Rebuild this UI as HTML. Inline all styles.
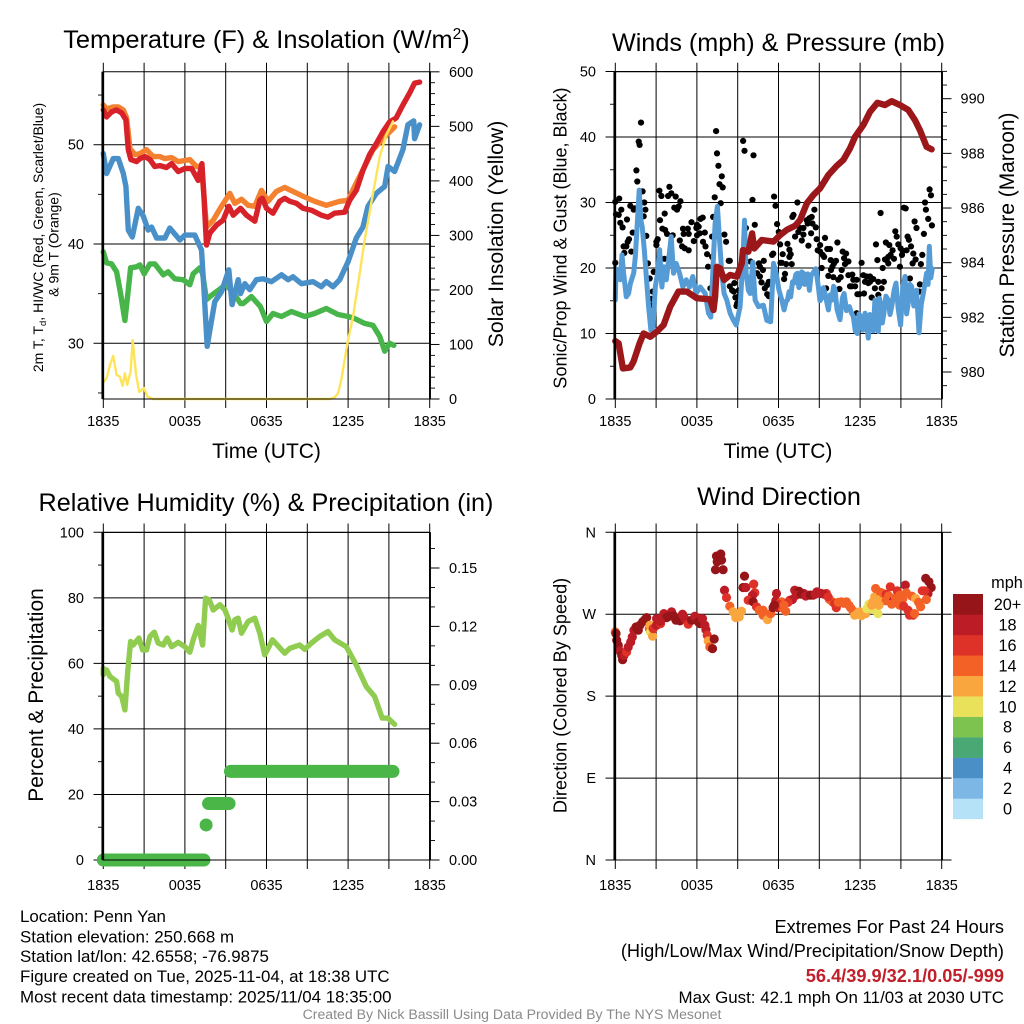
<!DOCTYPE html>
<html lang="en">
<head>
<meta charset="utf-8">
<title>Penn Yan Station Meteogram</title>
<style>
html,body{margin:0;padding:0;background:#fff;width:1024px;height:1024px;overflow:hidden}
svg{display:block;font-family:"Liberation Sans",sans-serif;fill:#000}
</style>
</head>
<body>
<svg id="chart" xmlns="http://www.w3.org/2000/svg" width="1024" height="1024" viewBox="0 0 1024 1024">
<rect x="0" y="0" width="1024" height="1024" fill="#fff"/>
<g id="p1"></g>
<g id="p2"></g>
<g id="p3"></g>
<g id="p4"></g>
<g id="cb"></g>

<text x="266.5" y="48" font-size="25.4" text-anchor="middle">Temperature (F) &amp; Insolation (W/m<tspan dy="-9" font-size="15.5">2</tspan><tspan dy="9">)</tspan></text>
<text x="778.5" y="51" font-size="25.2" text-anchor="middle">Winds (mph) &amp; Pressure (mb)</text>
<text x="266" y="511" font-size="25.2" text-anchor="middle">Relative Humidity (%) &amp; Precipitation (in)</text>
<text x="779" y="505" font-size="25.2" text-anchor="middle">Wind Direction</text>

<text x="266.5" y="458" font-size="21" text-anchor="middle">Time (UTC)</text>
<text x="778" y="458" font-size="21" text-anchor="middle">Time (UTC)</text>

<text transform="translate(43,237.5) rotate(-90)" font-size="14" text-anchor="middle">2m T, T<tspan dy="3" font-size="9.5">d</tspan><tspan dy="-3">, HI/WC (Red, Green, Scarlet/Blue)</tspan></text>
<text transform="translate(58.5,244.5) rotate(-90)" font-size="14" text-anchor="middle">&amp; 9m T (Orange)</text>
<text transform="translate(503,234) rotate(-90)" font-size="21.2" text-anchor="middle">Solar Insolation (Yellow)</text>
<text transform="translate(566.5,238) rotate(-90)" font-size="18" text-anchor="middle">Sonic/Prop Wind &amp; Gust (Blue, Black)</text>
<text transform="translate(1014,235) rotate(-90)" font-size="20.9" text-anchor="middle">Station Pressure (Maroon)</text>
<text transform="translate(43,695) rotate(-90)" font-size="21" text-anchor="middle">Percent &amp; Precipitation</text>
<text transform="translate(566.5,695.5) rotate(-90)" font-size="18.1" text-anchor="middle">Direction (Colored By Speed)</text>

<g font-size="16.9">
<text x="20" y="922">Location: Penn Yan</text>
<text x="20" y="942.5">Station elevation: 250.668 m</text>
<text x="20" y="962">Station lat/lon: 42.6558; -76.9875</text>
<text x="20" y="982">Figure created on Tue, 2025-11-04, at 18:38 UTC</text>
<text x="20" y="1002.5">Most recent data timestamp: 2025/11/04 18:35:00</text>
</g>
<g text-anchor="end">
<text x="1004" y="933" font-size="18.2">Extremes For Past 24 Hours</text>
<text x="1004" y="957" font-size="18.2">(High/Low/Max Wind/Precipitation/Snow Depth)</text>
<text x="1004" y="982" font-size="18.2" font-weight="bold" fill="#c0202a">56.4/39.9/32.1/0.05/-999</text>
<text x="1004" y="1003" font-size="16.9">Max Gust: 42.1 mph On 11/03 at 2030 UTC</text>
</g>
<text x="512" y="1019" font-size="14.1" text-anchor="middle" fill="#8a8a8a">Created By Nick Bassill Using Data Provided By The NYS Mesonet</text>
</svg>

<script>
// ---- Shared axis categories ----
const timeTickHours = [0, 6, 12, 18, 24];
const timeTickLabels = ['1835', '0035', '0635', '1235', '1835'];
const gridHours = [0, 3, 6, 9, 12, 15, 18, 21, 24];

// ---- Temperature panel ----
const tempTicks = [30, 40, 50];
const tempMinorTicks = [25, 35, 45, 55];
const solarTicks = [0, 100, 200, 300, 400, 500, 600];
const solarMinorTicks = [20,40,60,80,120,140,160,180,220,240,260,280,320,340,360,380,420,440,460,480,520,540,560,580];

const greenHours = [0,.24,.61,.98,1.27,1.59,1.84,2.01,2.45,2.69,3.01,3.43,3.79,4.41,4.77,5.26,5.87,6.36,6.61,7.10,7.30,7.59,8.03,8.52,9.00,9.37,9.61,10.10,10.28,10.71,10.89,11.55,12.00,12.48,13.10,13.83,14.81,15.54,16.40,17.26,17.99,18.48,19.21,19.83,20.32,20.69,21.06,21.36];
const greenValues = [39.2,38.1,38.0,37.2,35.0,32.3,35.4,37.6,37.7,37.9,37.0,38.0,38.0,36.9,37.2,36.5,36.4,35.9,37.0,37.6,37.0,34.4,34.9,35.4,35.9,35.4,35.0,34.0,34.0,34.5,34.7,33.7,32.2,33.0,32.7,33.2,32.7,33.0,33.5,32.9,32.7,32.5,32.0,31.8,30.7,29.2,30.0,29.8];

const blueHours = [0,.24,.73,1.10,1.47,1.66,1.84,2.13,2.57,2.94,3.30,3.55,3.92,4.53,4.89,5.63,6.00,6.73,7.22,7.39,7.64,7.88,8.20,8.69,9.23,9.47,9.92,10.09,10.41,10.77,11.26,11.75,12.36,13.10,13.59,13.95,14.57,15.42,16.03,16.40,16.89,17.38,17.99,18.60,19.09,19.46,20.07,20.69,20.94,21.42,22.03,22.40,22.82,22.89,23.26];
const blueValues = [49.1,47.1,48.6,48.6,47.1,45.8,41.4,40.7,43.6,42.8,41.4,41.7,40.6,40.6,41.6,40.4,40.9,40.9,39.4,35.7,29.7,31.7,34.2,35.2,37.4,33.9,36.4,35.0,36.0,35.4,36.4,36.5,36.2,36.9,36.4,36.7,36.0,36.2,35.7,36.2,35.7,36.4,38.2,40.6,41.7,43.8,45.1,45.8,47.8,47.3,49.5,52.0,52.4,50.6,52.0];

const orangeHours = [0,.24,.73,1.10,1.47,1.71,1.96,2.33,2.69,3.18,3.67,4.16,4.53,5.02,5.51,6.36,6.85,7.22,7.59,8.08,8.69,9.30,9.67,10.16,10.65,11.14,11.63,12.12,12.73,13.34,13.95,14.69,15.54,16.40,17.38,17.99,18.48,19.21,19.83,20.56,21.42];
const orangeValues = [54.0,53.6,53.8,53.8,53.5,52.7,49.6,49.0,49.1,49.5,48.8,48.8,48.6,48.7,48.3,48.5,47.8,47.8,41.7,42.4,43.8,45.1,44.1,44.5,43.9,43.8,45.4,44.3,45.3,45.7,45.3,44.8,44.3,43.9,44.3,44.4,45.8,47.8,49.5,50.6,51.8];

const redHours = [0,.24,.61,.98,1.35,1.66,1.84,2.03,2.45,2.69,3.06,3.43,3.79,4.16,4.65,5.02,5.51,6.00,6.49,6.98,7.25,7.39,7.59,7.83,8.32,8.81,9.23,9.55,10.09,10.53,11.14,11.51,11.70,12.00,12.48,12.97,13.34,13.71,14.20,14.69,15.30,16.03,16.52,17.01,17.75,18.11,18.60,19.09,19.58,20.07,20.56,21.05,21.54,22.03,22.52,22.89,23.26];
const redValues = [53.5,52.8,53.3,53.5,53.2,52.5,49.5,48.5,48.3,48.6,48.8,48.5,47.8,47.9,47.7,48.1,47.3,47.6,47.6,46.4,48.1,45.1,39.9,41.1,41.9,42.4,43.8,42.9,43.6,42.9,42.3,44.4,44.6,43.6,43.1,44.3,44.6,44.3,44.1,43.6,43.4,42.9,42.7,43.1,43.2,44.4,45.4,47.4,49.0,50.1,51.3,52.3,52.7,54.0,55.2,56.2,56.3];

const solarHours = [0,.05,.24,.49,.73,.98,1.22,1.42,1.59,1.76,2.01,2.16,2.40,2.64,2.99,3.23,3.67,8,12,16.65,17.01,17.26,17.50,17.75,17.99,18.36,18.85,19.21,19.83,20.32,20.80,21.30];
const solarValues = [35,32,38,62,79,44,41,24,47,26,50,108,47,13,20,5,0,0,0,0,3,10,35,72,108,151,230,291,377,444,484,509];

// ---- Winds panel ----
const windTicks = [0, 10, 20, 30, 40, 50];
const windMinorTicks = [5, 15, 25, 35, 45];
const pressureTicks = [980, 982, 984, 986, 988, 990];
const pressureMinorTicks = [979.5,980.5,981,981.5,982.5,983,983.5,984.5,985,985.5,986.5,987,987.5,988.5,989,989.5,990.5,991];

const gustHours = [0,0,.29,.05,.25,.44,.37,.54,.86,1.10,1.35,1.42,1.28,1.01,.91,.61,.81,.66,1.18,1.55,1.62,1.72,1.79,1.89,2.01,2.13,2.21,2.09,2.28,2.40,2.53,2.82,2.75,2.65,2.63,3.02,3.12,3.02,3.29,3.63,3.24,3.39,3.98,3.88,4.12,4.44,4.79,4.54,4.34,4.66,3.46,3.66,3.80,4.22,3.61,4.74,4.91,5.10,5.40,4.98,5.33,5.03,5.40,5.60,5.77,6.01,5.96,6.13,6.21,6.01,6.26,6.43,6.58,6.45,6.63,6.75,6.82,7.12,7.31,7.41,7.48,7.58,7.83,7.66,7.90,7.75,7.19,7.12,8.02,8.15,6.99,8.34,8.42,8.42,8.59,8.76,8.71,9.08,8.83,9.08,8.96,8.91,9.40,9.50,10.16,10.09,10.26,9.60,9.94,9.87,10.55,10.63,10.92,10.85,10.43,10.63,10.75,11.29,11.17,10.99,11.17,11.29,11.53,11.61,11.68,11.78,11.90,12.02,12.15,
12.12,12.66,12.31,12.80,12.90,12.80,12.24,12.56,12.97,12.48,12.41,13.39,13.10,13.02,14.64,14.44,14.27,14.08,14.15,14.49,14.74,13.59,13.83,13.46,13.83,13.22,13.71,14.40,14.20,14.81,15.42,15.06,14.88,15.06,15.59,15.79,16.33,15.25,15.35,15.84,16.23,16.08,15.96,15.86,16.72,16.97,16.82,17.14,16.89,16.65,15.18,15.67,16.03,16.40,16.57,15.50,16.48,17.14,17.43,17.26,17.38,17.63,17.50,17.75,18.11,17.80,18.29,17.94,18.24,18.48,18.73,18.97,18.36,18.73,18.60,19.09,19.58,19.34,19.75,19.34,18.85,17.75,19.17,19.27,19.51,19.66,19.83,19.95,19.90,20.15,20.39,20.24,20.07,20.07,20.49,20.59,20.69,20.81,20.98,21.13,21.08,21.42,20.93,21.22,21.35,21.49,21.59,21.74,21.91,22.08,21.86,22.01,22.15,22.69,22.57,22.47,21.66,22.40,22.35,22.77,22.84,23.01,23.28,23.11,23.21];
const gustValues = [20.8,30.1,30.6,28.2,28.1,28.9,26.9,26.2,27.4,29.5,28.9,29.1,25.4,24.4,24.0,23.3,23.3,22.3,22.5,34.9,33.2,39.3,38.8,42.2,31.7,30.0,28.9,27.9,24.9,20.7,18.4,19.4,16.4,15.3,14.3,24.0,24.4,23.5,27.3,28.3,31.8,31.0,32.4,31.0,31.4,30.9,30.2,28.9,29.2,29.4,26.0,25.8,25.2,25.0,21.4,24.2,23.3,23.0,22.7,26.0,26.0,25.2,25.2,27.0,24.1,26.6,26.1,26.3,25.3,25.0,27.5,27.7,25.4,24.0,23.3,22.1,20.2,21.7,30.8,40.9,37.5,35.6,34.0,32.8,32.3,29.9,27.8,24.8,25.1,24.0,16.9,21.1,21.1,17.2,16.6,17.7,16.4,16.6,15.5,15.7,14.6,14.2,39.4,37.9,37.2,30.4,26.6,26.1,21.0,18.4,20.7,20.2,21.1,19.7,19.2,18.7,17.8,17.9,17.4,16.9,16.0,15.7,22.0,22.2,30.9,29.5,26.7,25.5,20.8,
23.6,23.7,22.1,22.8,22.1,21.7,20.8,20.6,20.6,19.1,18.3,30.0,28.1,27.8,28.9,27.8,27.6,27.3,26.8,26.8,26.2,26.1,26.1,25.5,25.1,24.8,24.2,25.3,23.4,24.4,24.6,23.5,22.7,22.5,22.9,22.9,23.9,22.0,21.7,21.2,21.1,20.7,20.2,19.7,22.5,22.2,21.5,21.0,20.6,19.7,20.0,18.8,18.6,18.2,18.6,16.9,16.8,18.9,19.0,17.2,17.2,17.2,18.2,18.2,20.8,16.0,16.1,16.0,18.9,18.7,18.7,18.3,17.9,17.9,17.7,16.9,16.9,17.9,17.9,15.9,15.5,13.1,23.6,21.2,28.4,20.0,21.3,21.2,23.9,23.5,22.7,22.0,21.7,20.7,21.4,25.6,24.8,23.6,23.0,22.6,22.0,22.7,20.2,29.2,29.1,24.8,24.3,23.3,22.2,21.3,20.7,27.1,26.1,25.2,22.0,20.6,18.4,17.5,16.4,30.0,28.9,27.5,26.5,32.0,31.1];

const sustainedHours = [0,.05,.17,.37,.49,.61,.81,.98,1.10,1.35,1.47,1.59,1.76,1.88,1.98,2.13,2.28,2.45,2.62,2.77,2.94,3.11,3.26,3.43,3.55,3.75,3.92,4.11,4.28,4.48,4.72,4.97,5.21,5.46,5.70,5.95,6.24,6.61,6.85,7.02,7.22,7.34,7.51,7.66,7.83,8.00,8.20,8.44,8.69,8.89,9.18,9.38,9.50,9.62,9.79,9.92,10.11,10.28,10.53,10.89,11.14,11.43,11.63,11.82,12.04,12.24,12.41,12.55,12.66,12.78,12.90,13.03,13.15,13.27,13.39,13.50,13.59,13.70,13.83,13.93,14.03,14.15,14.27,14.40,14.52,14.74,14.93,15.05,15.18,15.30,15.42,15.55,15.67,15.80,15.91,16.05,16.16,16.30,16.52,16.70,16.82,17.00,17.21,17.35,17.50,17.65,17.80,17.92,18.04,18.20,18.36,18.48,18.60,18.72,18.85,18.97,19.09,19.20,19.34,19.42,19.51,19.63,19.75,19.90,20.07,20.20,20.32,20.50,20.64,20.80,20.98,21.15,21.30,21.42,21.54,21.66,21.79,21.95,22.15,22.33,22.50,22.65,22.89,23.00,23.09,23.20,23.31];
const sustainedValues = [15.1,19.9,19.2,18.2,22.0,19.2,15.6,16.1,17.6,19.2,21.7,25.8,31.9,27.3,26.3,22.8,18.7,14.1,10.5,11.0,17.1,19.2,22.8,17.1,20.2,18.2,21.2,24.8,19.2,20.7,19.2,17.1,18.2,17.1,18.7,16.1,17.1,16.1,13.1,12.5,21.7,26.8,29.4,24.3,19.2,16.1,15.1,13.1,12.0,11.3,14.1,21.2,27.3,19.2,16.6,16.1,20.9,15.1,14.1,14.3,12.0,11.8,20.7,19.2,16.6,15.1,13.6,14.9,15.1,16.4,15.6,17.9,17.7,19.0,19.2,17.0,17.4,19.4,19.2,17.5,18.2,19.1,16.6,18.9,19.2,19.9,17.2,15.0,15.4,17.0,16.1,14.8,13.6,15.9,15.1,17.2,16.6,13.7,12.1,15.4,16.1,13.5,14.1,13.2,12.6,10.4,10.0,13.0,12.6,10.5,13.1,11.5,9.3,12.9,12.6,10.4,15.1,12.0,10.3,15.4,14.6,11.6,13.1,15.7,15.1,12.9,14.1,16.6,17.7,13.8,11.3,17.2,18.7,13.0,14.6,17.5,17.2,14.2,16.6,10.1,14.5,16.1,19.2,17.5,23.3,18.5,19.9];

const pressureHours = [0,.24,.56,1.10,1.34,1.79,2.08,2.57,3.06,3.55,4.04,4.65,5.26,5.99,6.97,7.22,7.34,7.46,7.71,8.00,8.44,8.94,9.30,9.38,9.79,10.06,10.21,10.77,11.63,12.12,12.61,13.22,13.59,14.08,14.57,15.06,15.67,16.28,16.77,17.26,17.63,18.24,18.73,19.27,19.83,20.32,20.93,21.54,22.03,22.40,22.89,23.26];
const pressureValues = [981.13,981.05,980.13,980.17,980.38,981.05,981.41,981.29,981.48,981.72,982.39,982.94,982.94,982.70,982.66,982.27,982.76,983.85,983.79,983.37,983.55,983.49,983.98,984.46,984.40,985.07,984.52,984.83,984.77,985.01,985.20,985.35,985.56,986.17,986.48,986.72,987.21,987.54,987.76,988.18,988.61,989.04,989.52,989.85,989.77,989.91,989.77,989.59,989.22,988.85,988.24,988.15];

// ---- Humidity panel ----
const humidityTicks = [0, 20, 40, 60, 80, 100];
const humidityMinorTicks = [10, 30, 50, 70, 90];
const precipTicks = [0, 0.03, 0.06, 0.09, 0.12, 0.15];
const precipTickLabels = ['0.00', '0.03', '0.06', '0.09', '0.12', '0.15'];
const precipMinorTicks = [0.01,0.02,0.04,0.05,0.07,0.08,0.10,0.11,0.13,0.14,0.16];

const humidityHours = [0,0,.24,.49,.98,1.10,1.35,1.59,1.79,2.01,2.20,2.62,2.89,3.18,3.43,3.75,4.04,4.41,4.70,5.02,5.51,6.00,6.36,6.61,6.98,7.30,7.52,7.79,8.08,8.57,8.94,9.18,9.47,9.67,9.91,10.16,10.65,11.14,11.51,11.87,12.44,13.34,13.71,14.44,14.81,15.30,15.91,16.52,17.01,17.87,18.60,19.34,19.95,20.51,20.93,21.42];
const humidityValues = [58.5,56.5,58.0,56.0,54.5,50.9,49.9,45.8,57.0,66.7,65.6,67.7,64.1,64.1,68.2,69.5,66.2,65.6,67.7,65.1,66.4,65.1,63.4,67.2,71.6,65.6,79.9,79.4,76.3,77.9,76.3,73.8,70.2,73.3,73.8,69.2,72.8,73.8,69.2,62.6,67.2,63.1,64.6,65.6,64.3,66.2,68.2,69.7,67.2,65.1,59.5,52.9,49.9,43.3,43.3,41.4];

const precipStartHours = [0, 7.56, 7.74, 9.35];
const precipEndHours = [7.4, 7.56, 9.25, 21.3];
const precipInches = [0, 0.018, 0.029, 0.0455];

// ---- Direction panel ----
const directionTicks = [0, 90, 180, 270, 360];
const directionLabels = ['N', 'E', 'S', 'W', 'N'];
const speedBins = [0, 2, 4, 6, 8, 10, 12, 14, 16, 18, 20];
const speedBinLabels = ['0', '2', '4', '6', '8', '10', '12', '14', '16', '18', '20+'];
const speedColors = ['#b6e2f8','#7db7e5','#4a8fc5','#4aa874','#7dc34f','#e9e15a','#faa63f','#f36126','#de3127','#bc1c25','#951519'];

const dirHours = [0,.05,.10,.22,.34,.47,.54,.64,.83,.95,1.13,1.25,1.37,1.52,1.69,1.81,2.01,2.18,2.30,2.50,2.59,2.74,2.55,2.79,3.04,3.04,3.33,3.57,3.77,4.14,3.97,4.46,4.75,4.94,5.12,5.36,5.61,5.85,6.10,6.22,6.41,6.59,6.66,6.76,6.83,6.95,7.15,7.27,7.44,7.76,7.64,7.49,7.81,7.37,7.93,8.03,8.18,8.42,8.67,8.86,9.11,9.28,9.50,9.40,9.60,10.18,10.26,10.09,9.77,10.13,10.38,10.58,10.87,10.87,11.19,11.43,11.60,11.85,11.80,11.97,12.22,12.29,12.53,12.83,13.02,13.19,13.51,13.86,14.17,14.54,14.83,15.15,15.52,15.76,15.96,16.13,16.25,16.62,16.99,17.18,17.48,17.60,17.72,17.97,18.10,18.21,18.41,18.65,18.78,18.95,19.00,19.07,19.14,19.19,19.31,19.50,19.68,19.93,19.88,20.10,20.22,20.47,20.32,20.60,20.73,20.91,20.91,21.15,21.20,21.32,21.52,21.64,21.90,22.01,21.40,21.81,22.08,22.30,22.45,22.57,22.82,23.06,23.23,22.99,22.87,22.74,
4.30,3.30,5.00,13.30,13.70,14.00,14.35,14.70,15.00,15.35,15.65,16.40,16.80,17.30,17.85,18.30,18.50,18.85,19.25,19.40,12.00,11.70,12.70,12.40];
const dirDegrees = [250.5,248.7,241.4,235.8,229.6,224.8,220.0,224.8,228.5,234.0,239.5,245.0,252.4,256.0,252.4,257.9,261.6,264.1,266.3,254.2,250.5,245.8,257.9,254.2,257.9,265.2,259.7,270.7,266.3,272.6,267.8,263.4,262.7,270.0,265.2,259.0,263.4,267.8,261.6,259.7,265.2,257.9,253.1,246.9,240.6,234.0,232.2,242.8,333.9,336.1,329.5,327.7,329.5,318.9,318.9,296.4,288.4,278.8,272.6,266.3,267.1,273.3,311.9,299.4,299.4,303.1,293.5,290.9,285.4,283.6,278.1,274.4,274.4,268.9,264.1,270.7,277.3,292.8,284.7,277.3,283.6,277.3,273.3,285.4,286.2,296.4,295.3,292.8,290.9,290.9,294.6,292.8,292.8,286.2,283.6,281.8,277.3,283.6,283.6,279.9,273.7,268.9,270.7,272.6,268.5,270.7,270.7,281.0,278.0,283.6,275.0,289.1,298.3,282.9,270.7,294.0,292.8,292.0,284.7,290.0,300.1,284.7,281.0,288.0,295.7,290.9,279.9,287.3,279.0,302.0,274.4,268.9,269.0,270.7,293.5,289.8,287.3,283.0,278.1,295.7,309.3,305.6,299.4,292.8,286.2,295.7,
268.0,262.0,268.0,291.0,292.0,290.0,291.0,292.0,293.0,292.0,289.0,283.0,282.0,277.0,270.0,272.0,276.0,280.0,286.0,280.0,281.0,280.0,283.0,280.0];
const dirSpeeds = [14,20,20,20,18,20,20,18,16,18,18,18,18,20,20,20,20,20,20,14,10,12,12,16,18,18,16,18,20,18,20,20,20,18,18,16,20,18,20,20,18,18,18,16,12,14,20,20,20,20,20,20,20,20,20,18,16,14,12,12,12,12,20,20,18,16,16,18,16,20,16,14,14,14,12,14,20,18,18,18,14,14,14,16,18,18,20,18,18,18,18,18,16,14,14,16,16,14,14,14,14,12,12,12,12,12,12,10,12,12,10,12,14,14,10,14,14,16,14,14,16,18,14,14,16,14,14,14,16,18,16,16,16,14,14,14,12,14,14,16,20,20,20,18,14,16,
20,18,18,18,20,18,20,18,18,18,16,14,14,14,12,12,10,12,12,12,16,20,16,14];

// ---- Axis functions ----
const SVGNS = 'http://www.w3.org/2000/svg';
const xLeft = t => 103.3 + t * 13.6;
const xRight = t => 615.3 + t * 13.6;
const yTemp = v => 144.7 + (50 - v) * 9.93;
const ySolar = v => 399 - v * 0.5453;
const yWind = v => 399 - v * 6.55;
const yPressure = v => 372 - (v - 980) * 27.33;
const yHumidity = v => 860 - v * 3.277;
const yPrecip = v => 860 - v * 1946.7;
const yDirection = v => 860 - v * 0.9103;

function make(parent, tag, attrs) {
  const el = document.createElementNS(SVGNS, tag);
  for (const k in attrs) el.setAttribute(k, attrs[k]);
  parent.appendChild(el);
  return el;
}
function rule(parent, x1, y1, x2, y2, w, name) {
  const el = make(parent, 'line', {x1: x1, y1: y1, x2: x2, y2: y2, stroke: '#000', 'stroke-width': w});
  
  
}
function label(parent, x, y, text, anchor, name, size) {
  const el = make(parent, 'text', {x: x, y: y, 'font-size': size || 14.5, 'text-anchor': anchor});
  el.textContent = text;
  
  
}
function drawGrid(g, xf, yf, top, bottom, left, right, majors, minors) {
  gridHours.forEach(function (h) {
    rule(g, xf(h), top - 9, xf(h), bottom + 9, 1, 'vertical-gridline');
  });
  majors.forEach(function (v) {
    rule(g, left - 9.5, yf(v), right, yf(v), 1, 'horizontal-gridline');
  });
  minors.forEach(function (v) {
    rule(g, left - 5, yf(v), left, yf(v), 0.9, 'left-minor-tick');
  });
}
function drawFrame(g, top, bottom, left, right) {
  rule(g, left - 0.5, top, right + 0.5, top, 1, 'frame-top');
  rule(g, left - 0.5, bottom, right + 0.5, bottom, 1, 'frame-bottom');
  rule(g, left - 0.2, top, left - 0.2, bottom, 2.7, 'frame-left');
  rule(g, right, top, right, bottom, 1.9, 'frame-right');
}
function rightTicks(g, right, yf, majors, minors) {
  majors.forEach(function (v) {
    rule(g, right, yf(v), right + 9.5, yf(v), 1, 'right-major-tick');
  });
  minors.forEach(function (v) {
    rule(g, right, yf(v), right + 5, yf(v), 0.9, 'right-minor-tick');
  });
}
function series(g, hours, values, xf, yf, color, width, name) {
  const pts = hours.map(function (h, i) { return xf(h).toFixed(1) + ',' + yf(values[i]).toFixed(1); }).join(' ');
  const el = make(g, 'polyline', {points: pts, fill: 'none', stroke: color, 'stroke-width': width, 'stroke-linejoin': 'round', 'stroke-linecap': 'round'});
  
  
}
function timeLabels(g, xf, y) {
  timeTickHours.forEach(function (h, i) {
    label(g, xf(h), y, timeTickLabels[i], 'middle', 'time-tick-label');
  });
}

// ---- Panel 1 ----
(function () {
  const g = document.getElementById('p1');
  drawGrid(g, xLeft, yTemp, 71.7, 399, 103, 430, tempTicks, tempMinorTicks);
  series(g, greenHours, greenValues, xLeft, yTemp, '#48b54a', 5.4, 'dewpoint-line');
  series(g, blueHours, blueValues, xLeft, yTemp, '#4a90c8', 5.4, 'wind-chill-line');
  series(g, orangeHours, orangeValues, xLeft, yTemp, '#f4812f', 5.4, 'nine-meter-temperature-line');
  series(g, redHours, redValues, xLeft, yTemp, '#d7222a', 5.4, 'two-meter-temperature-line');
  series(g, solarHours, solarValues, xLeft, ySolar, '#fde45a', 2.4, 'solar-insolation-line');
  drawFrame(g, 71.7, 399, 103, 430);
  rightTicks(g, 430, ySolar, solarTicks, solarMinorTicks);
  tempTicks.forEach(function (v) { label(g, 84, yTemp(v) + 5, String(v), 'end', 'temperature-tick-label'); });
  solarTicks.forEach(function (v) { label(g, 449, ySolar(v) + 5, String(v), 'start', 'insolation-tick-label'); });
  timeLabels(g, xLeft, 426);
})();

// ---- Panel 2 ----
(function () {
  const g = document.getElementById('p2');
  drawGrid(g, xRight, yWind, 71.7, 399, 615, 942, windTicks, windMinorTicks);
  gustHours.forEach(function (h, i) {
    const c = make(g, 'circle', {cx: xRight(h).toFixed(1), cy: yWind(gustValues[i]).toFixed(1), r: 3.1, fill: '#000'});
    
    
  });
  series(g, sustainedHours, sustainedValues, xRight, yWind, '#559bd5', 5, 'sustained-wind-line');
  series(g, pressureHours, pressureValues, xRight, yPressure, '#9b1719', 6.4, 'station-pressure-line');
  drawFrame(g, 71.7, 399, 615, 942);
  rightTicks(g, 942, yPressure, pressureTicks, pressureMinorTicks);
  windTicks.forEach(function (v) { label(g, 596, yWind(v) + 5, String(v), 'end', 'wind-tick-label'); });
  pressureTicks.forEach(function (v) { label(g, 960.5, yPressure(v) + 5, String(v), 'start', 'pressure-tick-label'); });
  timeLabels(g, xRight, 426);
})();

// ---- Panel 3 ----
(function () {
  const g = document.getElementById('p3');
  drawGrid(g, xLeft, yHumidity, 532.5, 860, 103, 430, humidityTicks, humidityMinorTicks);
  series(g, humidityHours, humidityValues, xLeft, yHumidity, '#8fcc4f', 5.4, 'relative-humidity-line');
  precipInches.forEach(function (v, i) {
    const s = make(g, 'line', {x1: xLeft(precipStartHours[i]), y1: yPrecip(v), x2: xLeft(precipEndHours[i]), y2: yPrecip(v), stroke: '#4ab648', 'stroke-width': 13, 'stroke-linecap': 'round'});
    
    
  });
  drawFrame(g, 532.5, 860, 103, 430);
  rightTicks(g, 430, yPrecip, precipTicks, precipMinorTicks);
  humidityTicks.forEach(function (v) { label(g, 84, yHumidity(v) + 5, String(v), 'end', 'humidity-tick-label'); });
  precipTicks.forEach(function (v, i) { label(g, 449, yPrecip(v) + 5, precipTickLabels[i], 'start', 'precipitation-tick-label'); });
  timeLabels(g, xLeft, 890);
})();

// ---- Panel 4 ----
(function () {
  const g = document.getElementById('p4');
  drawGrid(g, xRight, yDirection, 532.5, 860, 615, 942, directionTicks, []);
  dirHours.forEach(function (h, i) {
    const idx = speedBins.indexOf(dirSpeeds[i]);
    const c = make(g, 'circle', {cx: xRight(h).toFixed(1), cy: yDirection(dirDegrees[i]).toFixed(1), r: 4.6, fill: speedColors[idx]});
    
    
  });
  drawFrame(g, 532.5, 860, 615, 942);
  rightTicks(g, 942, yDirection, directionTicks, []);
  directionTicks.forEach(function (v, i) { label(g, 596, yDirection(v) + 5, directionLabels[i], 'end', 'direction-tick-label'); });
  timeLabels(g, xRight, 890);
})();

// ---- Colorbar ----
(function () {
  const g = document.getElementById('cb');
  const boxH = 20.45, topY = 594;
  speedBins.forEach(function (b, i) {
    const row = speedBins.length - 1 - i;
    const r = make(g, 'rect', {x: 953, y: topY + row * boxH, width: 30, height: boxH + 0.2, fill: speedColors[i]});
    
    
    label(g, 1007.5, topY + row * boxH + 16, speedBinLabels[i], 'middle', 'colorbar-label', 16.3);
  });
  label(g, 1007, 588, 'mph', 'middle', 'colorbar-unit', 16.3);
})();
</script>
</body>
</html>
